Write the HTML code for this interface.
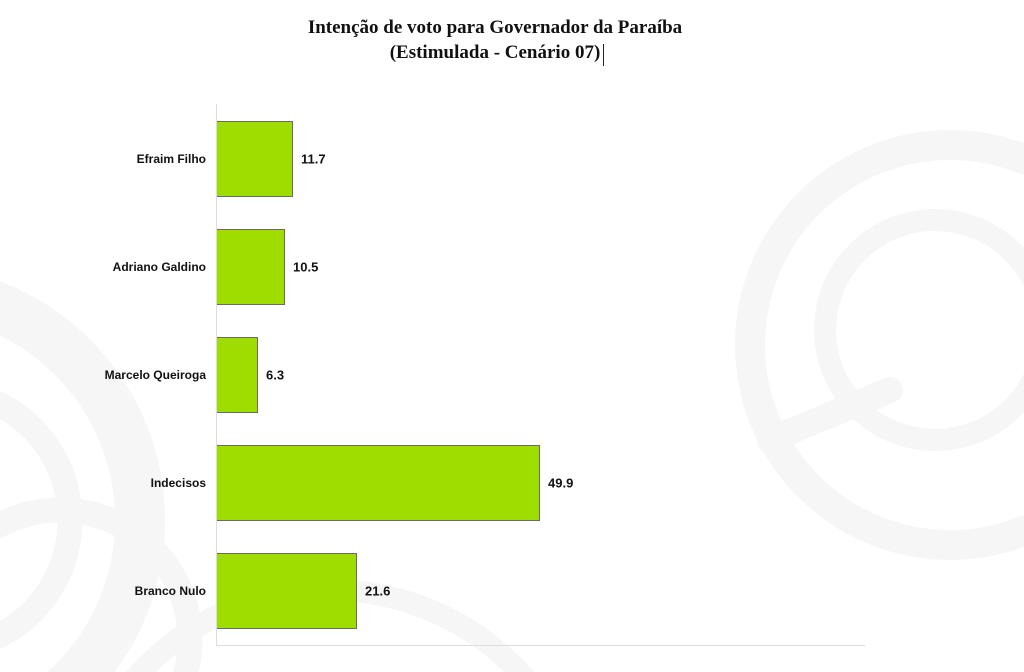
<!DOCTYPE html>
<html style="overflow:hidden"><head><meta charset="utf-8"><style>
html,body{margin:0;width:1024px;height:672px;overflow:hidden}
body{background:#fff;position:relative;font-family:"Liberation Sans",sans-serif}
.t{position:absolute;left:0;width:990px;text-align:center;font-family:"Liberation Serif",serif;font-weight:bold;font-size:19px;color:#111}
.l{position:absolute;right:818px;font-size:12px;font-weight:bold;color:#111;transform:translateY(-50%)}
.v{position:absolute;font-size:13px;font-weight:bold;color:#111;transform:translateY(-50%)}
.b{position:absolute;left:217px;height:76px;background:#9edd00;border:1px solid #6a6a6a;border-left:none;box-sizing:border-box}
</style></head><body>
<svg width="1024" height="672" style="position:absolute;left:0;top:0;display:block" fill="none" stroke="#f6f6f6">
<circle cx="950" cy="345" r="200" stroke-width="30"/>
<circle cx="935" cy="330" r="110" stroke-width="22"/>
<line x1="770" y1="440" x2="890" y2="390" stroke-width="26" stroke-linecap="round"/>
<circle cx="-90" cy="520" r="230" stroke-width="50"/>
<circle cx="-60" cy="520" r="130" stroke-width="25"/>
<circle cx="60" cy="640" r="130" stroke-width="25"/>
<circle cx="330" cy="850" r="260" stroke-width="22"/>
</svg>
<div class="t" style="top:17px">Intenção de voto para Governador da Paraíba</div>
<div class="t" style="top:42px">(Estimulada - Cenário 07)</div>
<div style="position:absolute;left:603px;top:44px;width:1px;height:22px;background:#222"></div>
<div style="position:absolute;left:216px;top:104px;width:1px;height:542px;background:#ddd"></div>
<div style="position:absolute;left:216px;top:645px;width:649px;height:1px;background:#ddd"></div>
<div class="b" style="top:121px;width:76px"></div>
<div class="b" style="top:229px;width:68px"></div>
<div class="b" style="top:337px;width:41px"></div>
<div class="b" style="top:445px;width:323px"></div>
<div class="b" style="top:553px;width:140px"></div>
<div class="l" style="top:159px">Efraim Filho</div>
<div class="l" style="top:267px">Adriano Galdino</div>
<div class="l" style="top:375px">Marcelo Queiroga</div>
<div class="l" style="top:483px">Indecisos</div>
<div class="l" style="top:591px">Branco Nulo</div>
<div class="v" style="top:159px;left:301px">11.7</div>
<div class="v" style="top:267px;left:293px">10.5</div>
<div class="v" style="top:375px;left:266px">6.3</div>
<div class="v" style="top:483px;left:548px">49.9</div>
<div class="v" style="top:591px;left:365px">21.6</div>
</body></html>
